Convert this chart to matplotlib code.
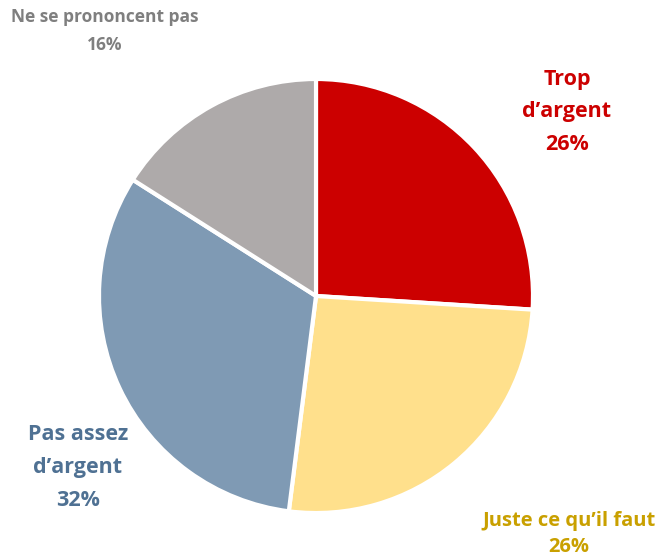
import matplotlib.pyplot as plt

# slice values, clockwise from 12 o'clock
labels = ["Trop\nd\u2019argent", "Juste ce qu\u2019il faut", "Pas assez\nd\u2019argent", "Ne se prononcent pas"]
values = [26, 26, 32, 16]
colors = ["#CC0000", "#FFE08C", "#7F9AB4", "#AEAAAA"]
text_colors = ["#CC0000", "#C9A000", "#4F7193", "#7F7F7F"]

plt.rcParams['font.family'] = ['Open Sans', 'DejaVu Sans']

fig = plt.figure(figsize=(6.59, 5.58), dpi=100)
ax = fig.add_axes([0, 0, 1, 1])

R = 217
ax.pie(values, colors=colors, startangle=90, counterclock=False,
       center=(316, 262), radius=R, explode=[0, 6 / R, 0, 0],
       wedgeprops=dict(edgecolor='white', linewidth=3))

# pie() resets the limits, so set them afterwards
ax.set_xlim(0, 659)
ax.set_ylim(0, 558)
ax.set_aspect('equal')
ax.axis('off')

# label positions (pixel coords, y from bottom), font size, line spacing
pos = [(567, 446, 15.5, 1.75), (569, 24, 14.5, 1.45),
       (78, 91, 15.5, 1.75), (105, 527, 12.5, 1.75)]
for lab, v, c, (x, y, fs, ls) in zip(labels, values, text_colors, pos):
    ax.text(x, y, f"{lab}\n{v}%", ha='center', va='center', color=c,
            fontsize=fs, fontweight='bold', linespacing=ls)

fig.savefig("out.png", dpi=100)
